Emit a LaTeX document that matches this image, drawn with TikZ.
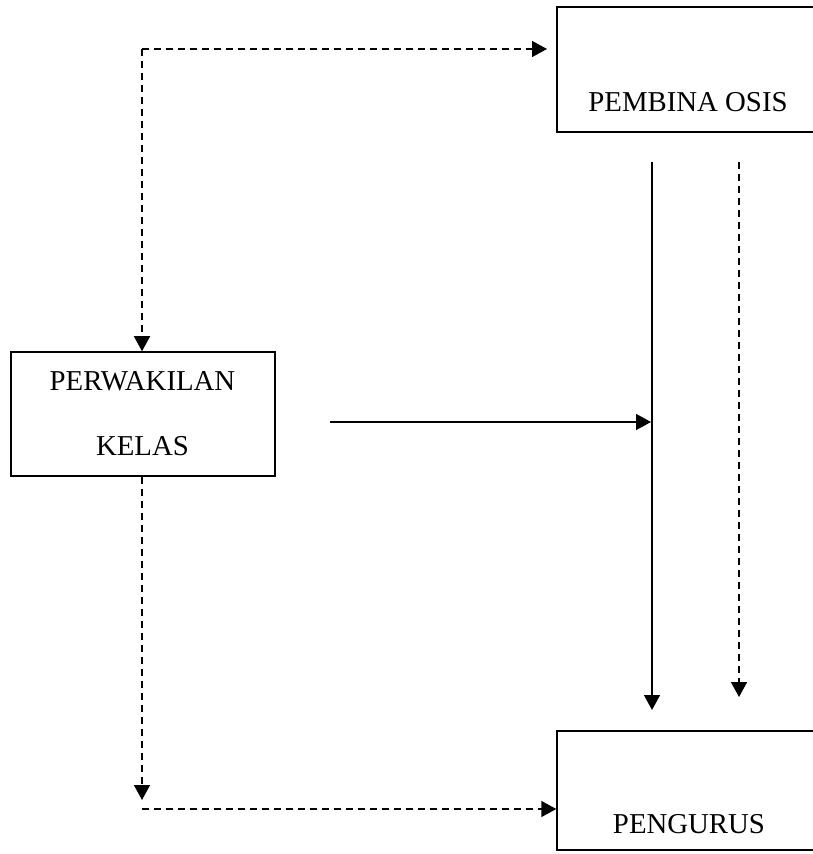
\documentclass[tikz,border=0pt]{standalone}
\usepackage{fontspec}
\setmainfont{Liberation Serif}
\usetikzlibrary{arrows.meta}
\begin{document}
\begin{tikzpicture}[x=0.5pt,y=-0.5pt,
  box/.style={draw=black,line width=0.75pt,rectangle,inner sep=0pt,fill=none},
  lbl/.style={inner sep=0pt,font=\fontsize{14.4}{17}\selectfont},
  solidarrow/.style={line width=0.75pt,-{Triangle[length=7.5pt,width=8pt]}},
  dasharrow/.style={line width=0.75pt,dash pattern=on 3.5pt off 2.5pt,-{Triangle[length=7.5pt,width=8pt]}},
  dashline/.style={line width=0.75pt,dash pattern=on 3.5pt off 2.5pt}]
\useasboundingbox (0,0) rectangle (812,854);
% boxes
\node[box,minimum width=131pt,minimum height=62.5pt] (pemb) at (688,69.5) {};
\node[box,minimum width=132pt,minimum height=62pt] (perw) at (143,414) {};
\node[box,minimum width=131pt,minimum height=59.5pt] (peng) at (688,790.5) {};
% labels
\node[lbl] (pembt) at (688,102) {PEMBINA OSIS};
\node[lbl] (perwt1) at (142.5,381) {PERWAKILAN};
\node[lbl] (perwt2) at (142.5,446) {KELAS};
\node[lbl] (pengt) at (689,824) {PENGURUS};
% coordinates
\coordinate (c1) at (142,49);
\coordinate (c1e) at (547,49);
\coordinate (c2s) at (142,476);
\coordinate (c2) at (142,800);
\coordinate (c3) at (142,809);
\coordinate (h1) at (330,422);
\coordinate (h2) at (651,422);
\coordinate (v1s) at (652,162);
\coordinate (v1e) at (652,710);
\coordinate (v2s) at (739,162);
\coordinate (v2e) at (739,697);
% connectors
\draw[dasharrow] (c1) -- (c1e);
\draw[dasharrow] (c1) -- (perw.north -| c1);
\draw[dasharrow] (perw.south -| c2s) -- (c2);
\draw[dasharrow] (c3) -- (peng.west |- c3);
\draw[solidarrow] (h1) -- (h2);
\draw[solidarrow] (v1s) -- (v1e);
\draw[dasharrow] (v2s) -- (v2e);
\end{tikzpicture}
\end{document}
